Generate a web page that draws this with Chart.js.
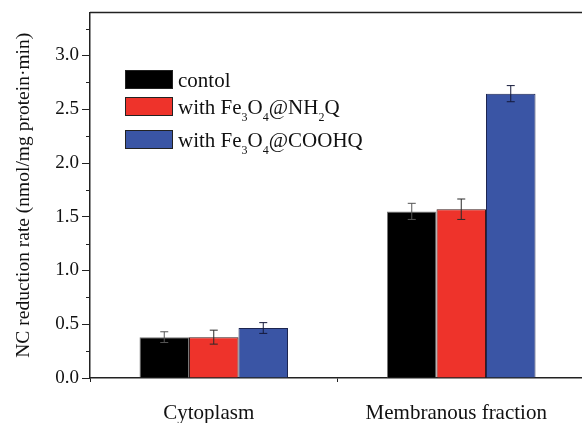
<!DOCTYPE html>
<html>
<head>
<meta charset="utf-8">
<script src="https://cdn.jsdelivr.net/npm/chart.js@4.4.0/dist/chart.umd.min.js"></script>
<style>
html, body { margin: 0; padding: 0; background: #fff; overflow: hidden; }
</style>
</head>
<body>
<canvas id="grafico" width="600" height="423"></canvas>
<script>
// Dados do gráfico
var categorias = ['Cytoplasm', 'Membranous fraction'];
var nomesSeries = ['contol', 'with Fe₃O₄@NH₂Q', 'with Fe₃O₄@COOHQ'];
var controle = [0.38, 1.55];
var comNH2 = [0.38, 1.57];
var comCOOH = [0.465, 2.645];
var erroControle = [0.05, 0.075];
var erroNH2 = [0.065, 0.095];
var erroCOOH = [0.05, 0.075];
var ticksY = [0, 0.5, 1, 1.5, 2, 2.5, 3];
var ticksMenores = [0.25, 0.75, 1.25, 1.75, 2.25, 2.75, 3.25];

var fonte = '"Liberation Serif", "Times New Roman", serif';
var cores = ['#000000', '#EE332B', '#3A55A5'];
var bordas = ['#777777', '#3a1a1a', '#1c2550'];
var coresErro = ['#555555', '#2a2a2a', '#14193a'];
var erros = [erroControle, erroNH2, erroCOOH];

// Desenha texto trocando os dígitos subscritos por dígitos menores e mais baixos
function desenharTexto(ctx, texto, x, y) {
    var subs = '₀₁₂₃₄₅₆₇₈₉';
    for (var ch of texto) {
        var i = subs.indexOf(ch);
        if (i >= 0) {
            ctx.font = '12px ' + fonte;
            ctx.fillText(String(i), x, y + 7);
            x += ctx.measureText(String(i)).width;
        } else {
            ctx.font = '21px ' + fonte;
            ctx.fillText(ch, x, y);
            x += ctx.measureText(ch).width;
        }
    }
}

var extras = {
    id: 'extras',
    afterDatasetsDraw(chart) {
        var ctx = chart.ctx;
        var y = chart.scales.y;
        ctx.save();
        ctx.lineWidth = 1;
        chart.data.datasets.forEach((ds, d) => {
            var meta = chart.getDatasetMeta(d);
            meta.data.forEach((bar, i) => {
                var v = ds.data[i], e = erros[d][i];
                var yTop = y.getPixelForValue(v + e);
                var yBot = y.getPixelForValue(v - e);
                ctx.strokeStyle = coresErro[d];
                ctx.beginPath();
                ctx.moveTo(bar.x, yTop); ctx.lineTo(bar.x, yBot);
                ctx.moveTo(bar.x - 4, yTop); ctx.lineTo(bar.x + 4, yTop);
                ctx.moveTo(bar.x - 4, yBot); ctx.lineTo(bar.x + 4, yBot);
                ctx.stroke();
            });
        });
        ctx.restore();
    },
    afterDraw(chart) {
        var ctx = chart.ctx;
        var area = chart.chartArea;
        var y = chart.scales.y;
        ctx.save();
        ctx.strokeStyle = '#222';
        ctx.lineWidth = 1.5;
        ctx.beginPath();
        ctx.moveTo(area.left, area.top);
        ctx.lineTo(area.right, area.top);
        ctx.stroke();
        ctx.lineWidth = 1;
        ticksMenores.forEach(v => {
            var py = Math.round(y.getPixelForValue(v)) + 0.5;
            ctx.beginPath();
            ctx.moveTo(area.left - 4, py);
            ctx.lineTo(area.left, py);
            ctx.stroke();
        });

        // Legenda
        var topos = [70, 97, 130];
        nomesSeries.forEach((nome, i) => {
            ctx.fillStyle = cores[i];
            ctx.fillRect(125, topos[i], 48, 19);
            ctx.strokeStyle = '#222';
            ctx.lineWidth = 1;
            ctx.strokeRect(125.5, topos[i] + 0.5, 47, 18);
            ctx.fillStyle = '#111';
            ctx.textBaseline = 'alphabetic';
            desenharTexto(ctx, nome, 178, topos[i] + 17);
        });
        ctx.restore();
    }
};

var ctx = document.getElementById('grafico').getContext('2d');
var grafico = new Chart(ctx, {
    type: 'bar',
    data: {
        labels: categorias,
        datasets: [controle, comNH2, comCOOH].map((dados, i) => ({
            label: nomesSeries[i],
            data: dados,
            backgroundColor: cores[i],
            borderColor: bordas[i],
            borderWidth: 1,
            categoryPercentage: 0.6,
            barPercentage: 1
        }))
    },
    options: {
        responsive: false,
        animation: false,
        layout: { padding: { left: 0, top: 10.5, right: 15, bottom: 0 } },
        plugins: {
            legend: { display: false },
            tooltip: { enabled: false }
        },
        scales: {
            x: {
                grid: { offset: true, drawOnChartArea: false, tickLength: 4, color: '#222' },
                border: { color: '#222', width: 1.5 },
                ticks: { font: { family: fonte, size: 21, lineHeight: 1 }, color: '#111', padding: 21, labelOffset: -5 },
                afterFit: s => { s.height = 45; }
            },
            y: {
                min: 0,
                max: 3.4,
                afterBuildTicks: s => { s.ticks = ticksY.map(v => ({ value: v })); },
                ticks: {
                    callback: v => v.toFixed(1),
                    font: { family: fonte, size: 19, lineHeight: 1 },
                    color: '#111',
                    padding: 3
                },
                grid: { drawOnChartArea: false, tickLength: 8, color: '#222' },
                border: { color: '#222', width: 1.5 },
                title: {
                    display: true,
                    text: 'NC reduction rate (nmol/mg protein·min)',
                    font: { family: fonte, size: 19.5 },
                    color: '#111',
                    padding: { top: 12, bottom: 0 }
                },
                afterFit: s => { s.width = 90; }
            }
        }
    },
    plugins: [extras]
});
</script>
</body>
</html>
